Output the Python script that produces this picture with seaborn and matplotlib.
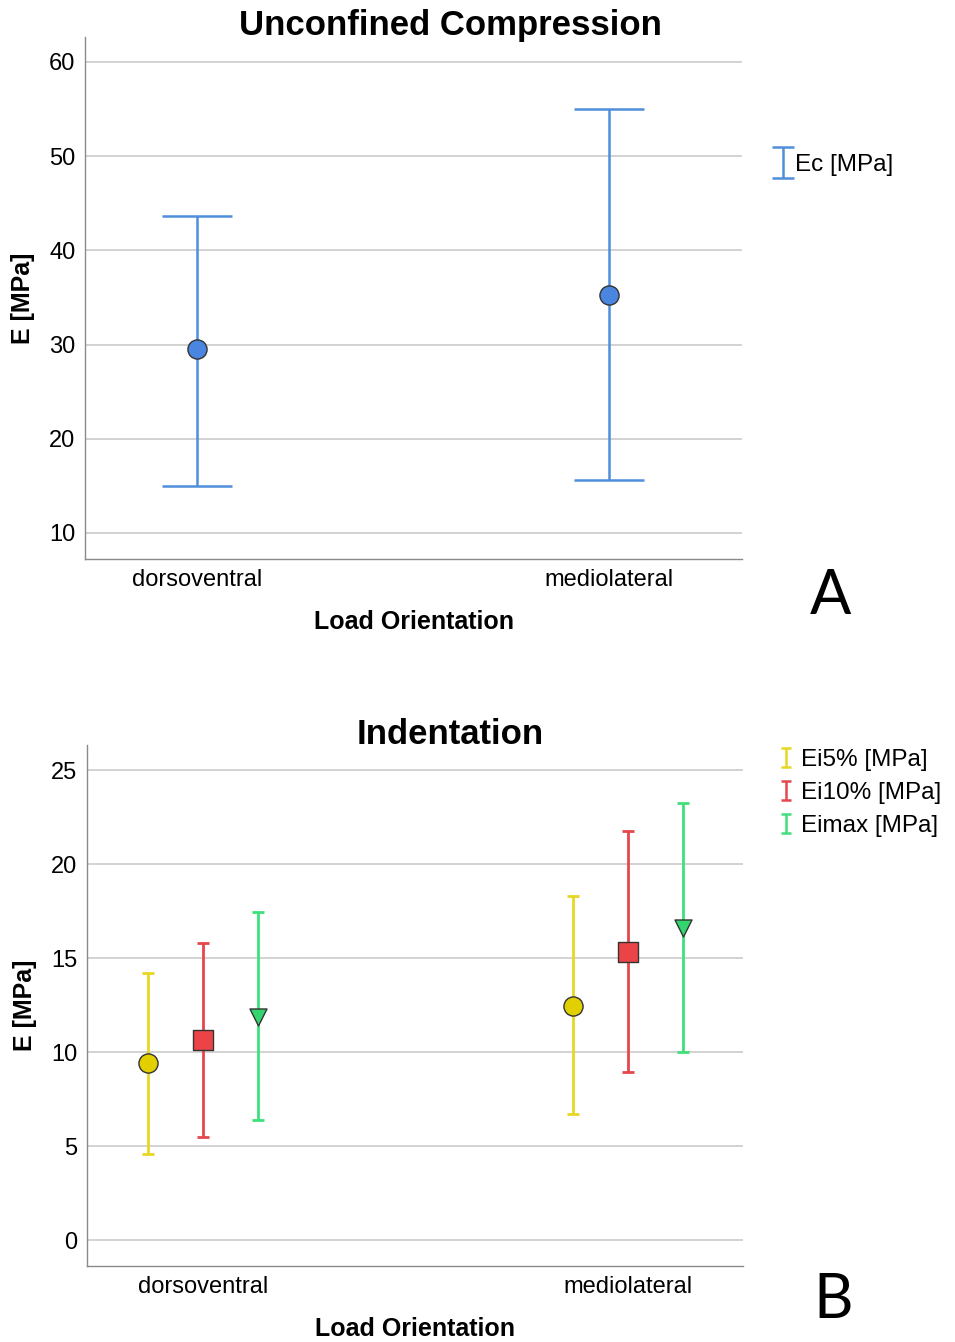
import numpy as np
import pandas as pd
import matplotlib
matplotlib.use("Agg")
import matplotlib.pyplot as plt
import seaborn as sns
from matplotlib.container import ErrorbarContainer
from matplotlib.legend_handler import HandlerErrorbar

# Data (means and lower/upper interval ends)
orientations = ["dorsoventral", "mediolateral"]

ec_mean = [29.5, 35.3]
ec_low = [15.0, 15.6]
ec_high = [43.7, 55.0]

indent_measures = ["Ei5% [MPa]", "Ei10% [MPa]", "Eimax [MPa]"]
ei5_mean = [9.40, 12.46]
ei5_low = [4.57, 6.69]
ei5_high = [14.22, 18.28]
ei10_mean = [10.64, 15.34]
ei10_low = [5.50, 8.92]
ei10_high = [15.81, 21.77]
eimax_mean = [11.85, 16.58]
eimax_low = [6.38, 10.00]
eimax_high = [17.43, 23.24]

# Styles
sns.set_style("white")
plt.rcParams["font.family"] = ["Liberation Sans", "DejaVu Sans"]
for key in ["text.color", "axes.labelcolor", "xtick.color", "ytick.color"]:
    plt.rcParams[key] = "black"

blue_line, blue_fill = "#4f8fdc", "#4a86e0"
line_colors = ["#e6d722", "#e5474d", "#3fe07c"]
fill_colors = ["#e2cf00", "#ec4446", "#33d66e"]
marker_shapes = ["o", "s", "v"]
marker_sizes = [190, 200, 150]


def style_axes(ax):
    ax.yaxis.grid(True, color="#cfcfcf", linewidth=1.3)
    ax.xaxis.grid(False)
    ax.set_axisbelow(True)
    for side in ["top", "right"]:
        ax.spines[side].set_visible(False)
    for side in ["left", "bottom"]:
        ax.spines[side].set_color("#8a8a8a")
        ax.spines[side].set_linewidth(1.0)
    ax.tick_params(length=0, labelsize=17, pad=7)
    ax.set_xticks(range(len(orientations)))
    ax.set_xticklabels(orientations)
    ax.set_xlabel("Load Orientation", fontsize=18, fontweight="bold", labelpad=14)
    ax.set_ylabel("E [MPa]", fontsize=18, fontweight="bold", labelpad=10)


def legend_handle(ax, color, capsize, label):
    # invisible errorbar used only for its legend entry
    return ax.errorbar([0], [np.nan], yerr=[[1], [1]], fmt="none", ecolor=color,
                       elinewidth=1.8, capsize=capsize, capthick=1.8, label=label)


fig = plt.figure(figsize=(9.55, 13.42), dpi=100)
axA = fig.add_axes([85 / 955, 1 - 559 / 1342, 657 / 955, 522 / 1342])
axB = fig.add_axes([87 / 955, 1 - 1266 / 1342, 656 / 955, 521 / 1342])

# Panel A: unconfined compression
dfA = pd.DataFrame({"orientation": orientations, "mean": ec_mean,
                    "low": ec_low, "high": ec_high})
dfA["x"] = np.arange(len(dfA))
axA.errorbar(dfA["x"], dfA["mean"],
             yerr=[dfA["mean"] - dfA["low"], dfA["high"] - dfA["mean"]],
             fmt="none", ecolor=blue_line, elinewidth=1.8, capsize=25,
             capthick=1.8, zorder=2)
sns.scatterplot(data=dfA, x="x", y="mean", color=blue_fill, edgecolor="#333333",
                linewidth=1.0, s=190, zorder=3, ax=axA, legend=False)
axA.set_ylim(7.24, 62.65)
axA.set_yticks([10, 20, 30, 40, 50, 60])
axA.set_xlim(-0.272, 1.323)
style_axes(axA)

legA = legend_handle(axA, blue_line, 8, "Ec [MPa]")
axA.legend(handles=[legA], loc="center left", frameon=False, fontsize=17.5,
           bbox_to_anchor=(760 / 955, 1 - 165 / 1342), bbox_transform=fig.transFigure,
           handlelength=0.9, handletextpad=0.05, borderpad=0,
           handler_map={ErrorbarContainer: HandlerErrorbar(yerr_size=0.62)})

# Panel B: indentation
dfB = pd.DataFrame({
    "orientation": orientations * 3,
    "measure": np.repeat(indent_measures, len(orientations)),
    "mean": ei5_mean + ei10_mean + eimax_mean,
    "low": ei5_low + ei10_low + eimax_low,
    "high": ei5_high + ei10_high + eimax_high,
})
dodge = 0.1294
dfB["x"] = (dfB["orientation"].map({o: i for i, o in enumerate(orientations)})
            + (dfB["measure"].map({m: i for i, m in enumerate(indent_measures)}) - 1) * dodge)

handlesB = []
for i, m in enumerate(indent_measures):
    sub = dfB[dfB["measure"] == m]
    axB.errorbar(sub["x"], sub["mean"],
                 yerr=[sub["mean"] - sub["low"], sub["high"] - sub["mean"]],
                 fmt="none", ecolor=line_colors[i], elinewidth=2.0, capsize=4.5,
                 capthick=2.0, zorder=2)
    sns.scatterplot(data=sub, x="x", y="mean", color=fill_colors[i],
                    marker=marker_shapes[i], edgecolor="#333333", linewidth=1.0,
                    s=marker_sizes[i], zorder=3, ax=axB, legend=False)
    handlesB.append(legend_handle(axB, line_colors[i], 3.5, m))
axB.set_ylim(-1.38, 26.33)
axB.set_yticks([0, 5, 10, 15, 20, 25])
axB.set_xlim(-0.273, 1.27)
style_axes(axB)
axB.legend(handles=handlesB, loc="upper left", frameon=False, fontsize=17.5,
           bbox_to_anchor=(767 / 955, 1 - 737 / 1342), bbox_transform=fig.transFigure,
           handlelength=0.6, handletextpad=0.3, borderpad=0, labelspacing=0.45,
           handler_map={ErrorbarContainer: HandlerErrorbar(yerr_size=0.4)})

# Titles and panel letters
fig.text(450 / 955, 1 - 26 / 1342, "Unconfined Compression", fontsize=25,
         fontweight="bold", ha="center", va="center")
fig.text(450 / 955, 1 - 734 / 1342, "Indentation", fontsize=25,
         fontweight="bold", ha="center", va="center")
fig.text(830 / 955, 1 - 596 / 1342, "A", fontsize=44, ha="center", va="center",
         family=["Lato", "DejaVu Sans"])
fig.text(833 / 955, 1 - 1300 / 1342, "B", fontsize=44, ha="center", va="center",
         family=["Lato", "DejaVu Sans"])

fig.savefig("out.png", dpi=100)
